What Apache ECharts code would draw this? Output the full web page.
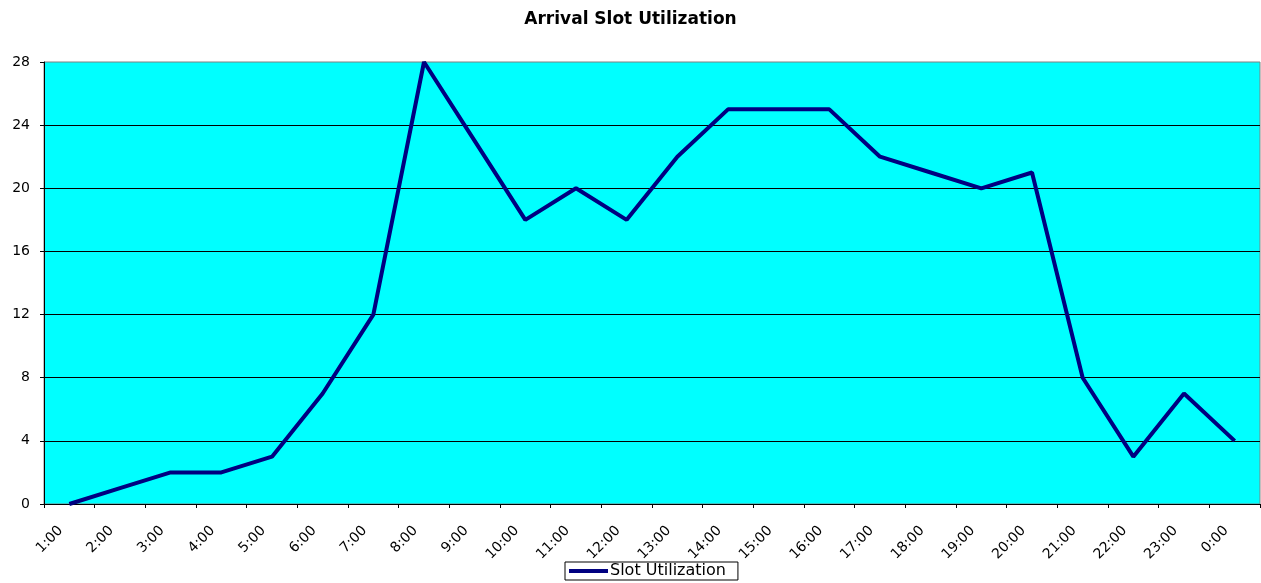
<!DOCTYPE html>
<html>
<head>
<meta charset="utf-8">
<title>Arrival Slot Utilization</title>
<script src="https://cdn.jsdelivr.net/npm/echarts@6/dist/echarts.min.js"></script>
<style>
  html, body { margin: 0; padding: 0; background: #fff; }
  #chart { width: 1261px; height: 583px; }
</style>
</head>
<body>
<div id="chart"></div>
<script>
const hours = ['1:00', '2:00', '3:00', '4:00', '5:00', '6:00', '7:00', '8:00', '9:00', '10:00', '11:00', '12:00',
  '13:00', '14:00', '15:00', '16:00', '17:00', '18:00', '19:00', '20:00', '21:00', '22:00', '23:00', '0:00']
const slotUtilization = [0, 1, 2, 2, 3, 7, 12, 28, 23, 18, 20, 18, 22, 25, 25, 25, 22, 21, 20, 21, 8, 3, 7, 4]

const font = 'DejaVu Sans, Arial, sans-serif'

const chart = echarts.init(document.getElementById('chart'))
const option = {
  animation: false,
  title: {
    text: 'Arrival Slot Utilization',
    left: 'center',
    top: 6,
    textStyle: {
      fontFamily: font,
      fontWeight: 'bold',
      fontSize: 17,
      color: '#000'
    }
  },
  legend: {
    data: ['Slot Utilization'],
    left: 565,
    top: 562,
    icon: 'rect',
    itemWidth: 39,
    itemHeight: 4,
    padding: [1, 12, 1, 4],
    borderColor: '#000',
    borderWidth: 1,
    textStyle: { fontFamily: font, fontSize: 16, color: '#000', padding: [0, 0, 0, -3] }
  },
  grid: {
    left: 44,
    right: 1,
    top: 62,
    bottom: 79,
    show: true,
    backgroundColor: '#00FFFF',
    borderColor: '#808080',
    borderWidth: 1
  },
  xAxis: {
    type: 'category',
    data: hours,
    boundaryGap: true,
    axisLine: { lineStyle: { color: '#000', width: 1 } },
    axisTick: { show: true, length: 4, lineStyle: { color: '#000' } },
    axisLabel: {
      interval: 0,
      rotate: 45,
      margin: 16,
      padding: [0, 12, 0, 0],
      fontFamily: font,
      fontSize: 14,
      color: '#000'
    }
  },
  yAxis: {
    type: 'value',
    min: 0,
    max: 28,
    interval: 4,
    axisLine: { show: true, lineStyle: { color: '#000', width: 1 } },
    axisTick: { show: true, length: 4, lineStyle: { color: '#000' } },
    axisLabel: { fontFamily: font, fontSize: 14, color: '#000', margin: 14 },
    splitLine: { show: true, showMaxLine: false, lineStyle: { color: '#000', width: 1 } }
  },
  series: [
    {
      name: 'Slot Utilization',
      type: 'line',
      data: slotUtilization,
      symbol: 'none',
      lineStyle: { color: '#000080', width: 4 },
      itemStyle: { color: '#000080' }
    }
  ]
}
chart.setOption(option)
window.addEventListener('resize', function () { chart.resize() })
</script>
</body>
</html>
